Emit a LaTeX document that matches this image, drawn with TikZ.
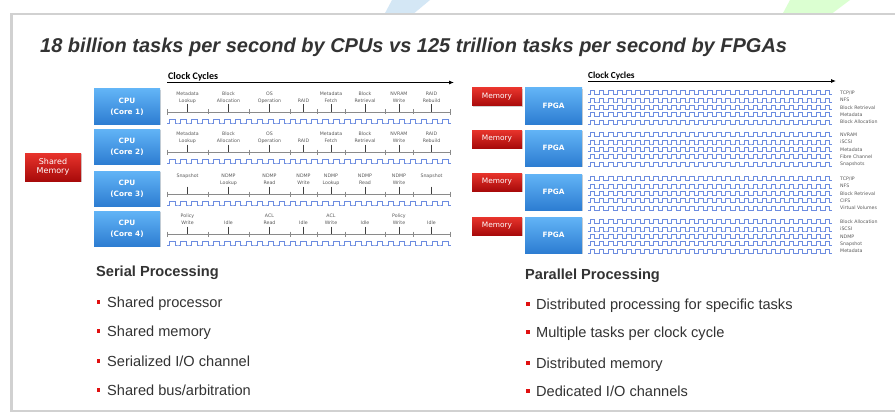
\documentclass[tikz,border=0pt]{standalone}
\usepackage{fontspec}
\setmainfont{Liberation Sans}
\newfontfamily\dvs{DejaVu Sans}
\newfontfamily\cbr{Carlito}
\usetikzlibrary{shadows,arrows.meta}
\definecolor{txt}{HTML}{333333}
\definecolor{labc}{HTML}{5A5A5A}
\definecolor{brk}{HTML}{8A8A8A}
\definecolor{wvc}{HTML}{6C8CE0}
\definecolor{cpuT}{HTML}{62B4F6}
\definecolor{cpuB}{HTML}{2D7DD2}
\definecolor{redT}{HTML}{E8342C}
\definecolor{redB}{HTML}{A80A0A}
\definecolor{bulc}{HTML}{E01010}
\newcommand\tlrow[2]{%
  \foreach \cx/\lt [count=\k] in {#2}{
    \node[tlab] (t#1x\k) at (\cx,{\csname yrow#1\endcsname+15.5}) {\lt\strut};
    \draw[tick] (t#1x\k.south) -- (\cx,{\csname yrow#1\endcsname+23});
  }}
\def\yrowa{89}\def\yrowb{129}\def\yrowc{171}\def\yrowd{211}
\begin{document}
\begin{tikzpicture}[x=1pt,y=-1pt,
  bluebox/.style={draw=none,top color=cpuT,bottom color=cpuB,inner sep=0pt,text=white,align=center,
    drop shadow={shadow xshift=1.2pt,shadow yshift=-1.2pt,opacity=.35}},
  redbox/.style={draw=none,top color=redT,bottom color=redB,inner sep=0pt,text=white,align=center,
    drop shadow={shadow xshift=1.2pt,shadow yshift=-1.2pt,opacity=.35}},
  cpubox/.style={bluebox,minimum width=66pt,minimum height=35pt,font=\dvs\bfseries\fontsize{7.3}{11}\selectfont},
  fpgabox/.style={bluebox,minimum width=57pt,minimum height=36pt,font=\dvs\bfseries\fontsize{7.3}{9}\selectfont},
  membox/.style={redbox,minimum width=50pt,minimum height=18pt,font=\dvs\fontsize{7.4}{9}\selectfont},
  tlab/.style={font=\dvs\fontsize{4.7}{6.8}\selectfont,text=labc,align=center,inner sep=0pt,anchor=south},
  rlab/.style={font=\dvs\fontsize{4.7}{6}\selectfont,text=labc,inner sep=0pt,anchor=west},
  tick/.style={draw=black!75,line width=0.6pt},
  brkl/.style={draw=brk,line width=0.45pt},
  wave/.style={draw=wvc,line width=0.55pt},
  clk/.style={font=\cbr\bfseries\fontsize{10}{12}\selectfont,text=black,inner sep=0pt,anchor=base west},
  axis/.style={draw=black,line width=0.8pt,-{Latex[length=5pt,width=4pt]}},
  head/.style={font=\bfseries\fontsize{14.6}{17}\selectfont,text=txt,inner sep=0pt,anchor=base west},
  item/.style={font=\fontsize{14.6}{17}\selectfont,text=txt,inner sep=0pt,anchor=base west},
  bulsq/.style={fill=bulc,draw=none,minimum size=3.6pt,inner sep=0pt}
]
\useasboundingbox (0,0) rectangle (895,420);
% background decorations
\fill[cyan!60!blue,opacity=0.18] (392,0) -- (430,0) -- (412,15) -- (384,15) -- cycle;
\fill[green!70!lime,opacity=0.18] (790,0) -- (850,0) -- (830,15) -- (782,15) -- cycle;
% panel
\fill[black!18] (10,13) rectangle (895,412);
\fill[white] (12.5,15.5) rectangle (895,409.5);
% title
\node[font=\bfseries\itshape\fontsize{20}{24}\selectfont,text=txt,inner sep=0pt,anchor=base west] (title) at (40,53)
  {18 billion tasks per second by CPUs vs 125 trillion tasks per second by FPGAs};
% ---------------- left: serial ----------------
\node[clk] (clkL) at (168,80) {Clock Cycles};
\coordinate (axL0) at (167,82.5);
\coordinate (axL1) at (454,82.5);
\draw[axis] (axL0) -- (axL1);
\node[redbox,minimum width=56pt,minimum height=28pt,font=\dvs\fontsize{8}{9.5}\selectfont] (shm) at (53,167) {Shared\\Memory};
\foreach \r/\yt in {1/89,2/129,3/171,4/211}{
  \node[cpubox] (cpu\r) at (127,{\yt+17.5}) {CPU\\(Core \r)};
  \draw[brkl] (167,{\yt+23}) -- (450,{\yt+23});
  \draw[brkl] (167,{\yt+20.5}) -- (167,{\yt+26});
  \draw[brkl] (450,{\yt+20.5}) -- (450,{\yt+26});
  \foreach \dx in {208,249,290,317,345,385,413}{
    \draw[brkl] (\dx,{\yt+20.5}) -- (\dx,{\yt+25.5});
  }
  \draw[wave] (167,{\yt+34}) \foreach \i in {1,...,26}{ -- ++(2.7,0) -- ++(0,-4) -- ++(5.5,0) -- ++(0,4) -- ++(2.72,0)};
}
\tlrow{a}{187.5/Metadata\\Lookup,228.5/Block\\Allocation,269.5/OS\\Operation,303.5/RAID,331/Metadata\\Fetch,365/Block\\Retrieval,399/NVRAM\\Write,431.5/RAID\\Rebuild}
\tlrow{b}{187.5/Metadata\\Lookup,228.5/Block\\Allocation,269.5/OS\\Operation,303.5/RAID,331/Metadata\\Fetch,365/Block\\Retrieval,399/NVRAM\\Write,431.5/RAID\\Rebuild}
\tlrow{c}{187.5/Snapshot\\\mbox{},228.5/NDMP\\Lookup,269.5/NDMP\\Read,303.5/NDMP\\Write,331/NDMP\\Lookup,365/NDMP\\Read,399/NDMP\\Write,431.5/Snapshot\\\mbox{}}
\tlrow{d}{187.5/Policy\\Write,228.5/Idle,269.5/ACL\\Read,303.5/Idle,331/ACL\\Write,365/Idle,399/Policy\\Write,431.5/Idle}
% ---------------- right: parallel ----------------
\node[clk,font=\cbr\bfseries\fontsize{9.3}{11}\selectfont] (clkR) at (588,78.5) {Clock Cycles};
\coordinate (axR0) at (588,81);
\coordinate (axR1) at (836,81);
\draw[axis] (axR0) -- (axR1);
\foreach \r/\ft/\mt/\la/\lb/\lc/\ld/\le in {
  1/88/88/{TCP/IP}/NFS/Block Retrieval/Metadata/Block Allocation,
  2/130/130/NVRAM/iSCSI/Metadata/Fibre Channel/Snapshots,
  3/174/173/{TCP/IP}/NFS/Block Retrieval/CIFS/Virtual Volumes,
  4/217/217/Block Allocation/iSCSI/NDMP/Snapshot/Metadata}{
  \node[membox] (mem\r) at (497,{\mt+9}) {Memory};
  \node[fpgabox] (fpga\r) at (553.5,{\ft+18}) {FPGA};
  \foreach \w/\wl in {0/\la,1/\lb,2/\lc,3/\ld,4/\le}{
    \draw[wave] (588,{\ft+6.7+7.3*\w}) \foreach \i in {1,...,27}{ -- ++(2.2,0) -- ++(0,-4) -- ++(4.5,0) -- ++(0,4) -- ++(2.337,0)};
    \node[rlab] (rl\r x\w) at (840,{\ft+4.9+7.3*\w}) {\wl};
  }
}
% ---------------- bottom text ----------------
\node[head] (serial) at (96,276) {Serial Processing};
\foreach \i/\t/\yb in {1/Shared processor/307,2/Shared memory/336,3/{Serialized I/O channel}/366,4/{Shared bus/arbitration}/395.5}{
  \node[bulsq] (sb\i) at (98.5,{\yb-5.3}) {};
  \node[item] (si\i) at (107,\yb) {\t};
}
\node[head] (parallel) at (525,279) {Parallel Processing};
\foreach \i/\t/\yb in {1/Distributed processing for specific tasks/309,2/Multiple tasks per clock cycle/337.5,3/Distributed memory/368,4/{Dedicated I/O channels}/396.5}{
  \node[bulsq] (pb\i) at (527.8,{\yb-5.3}) {};
  \node[item] (pi\i) at (536,\yb) {\t};
}
\end{tikzpicture}
\end{document}
